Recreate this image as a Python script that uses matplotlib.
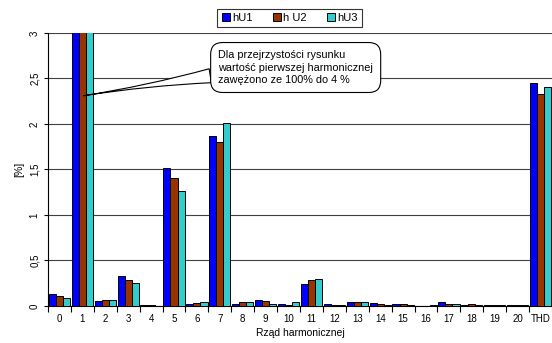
import matplotlib.pyplot as plt
import numpy as np

plt.rcParams['font.family'] = ['Liberation Sans', 'DejaVu Sans']

categories = [str(i) for i in range(21)] + ['THD']
# first harmonic (100%) shown narrowed to 4 %
hU1 = [0.13, 4.0, 0.05, 0.33, 0.01, 1.52, 0.02, 1.87, 0.02, 0.06, 0.02,
       0.24, 0.02, 0.04, 0.03, 0.02, 0.00, 0.04, 0.01, 0.01, 0.01, 2.45]
hU2 = [0.11, 4.0, 0.07, 0.28, 0.01, 1.41, 0.03, 1.80, 0.04, 0.05, 0.01,
       0.28, 0.01, 0.04, 0.02, 0.02, 0.00, 0.02, 0.02, 0.01, 0.01, 2.33]
hU3 = [0.09, 4.0, 0.07, 0.25, 0.00, 1.26, 0.04, 2.01, 0.04, 0.02, 0.04,
       0.30, 0.01, 0.04, 0.01, 0.01, 0.01, 0.02, 0.01, 0.01, 0.01, 2.41]
yticks = [0, 0.5, 1, 1.5, 2, 2.5, 3]
ytick_labels = ['0', '0,5', '1', '1,5', '2', '2,5', '3']

fig = plt.figure(figsize=(5.52, 3.43), dpi=100)
ax = fig.add_axes([0.087, 0.108, 0.913, 0.796])

x = np.arange(len(categories))
w = 0.31
series = [(hU1, '#0000FF', 'hU1'), (hU2, '#993300', 'h U2'), (hU3, '#33CCCC', 'hU3')]
for i, (vals, col, lab) in enumerate(series):
    ax.bar(x + (i - 1) * w, vals, width=w, color=col, edgecolor='black',
           linewidth=0.7, label=lab, zorder=3)

ax.set_ylim(0, 3)
ax.set_xlim(-0.5, len(categories) - 0.5)
ax.set_yticks(yticks)
ax.set_yticklabels(ytick_labels, rotation=90, va='center', fontsize=7)
ax.yaxis.grid(True, color='#404040', linewidth=0.8, zorder=0)
ax.tick_params(axis='y', length=3, width=0.8, pad=3)

ax.set_xticks(x)
ax.set_xticklabels(categories, fontsize=7)
ax.set_xticks(np.arange(-0.5, len(categories)), minor=True)
ax.tick_params(axis='x', which='major', length=0, pad=6)
ax.tick_params(axis='x', which='minor', length=4, width=0.8)

for s in ['top', 'right']:
    ax.spines[s].set_visible(False)
ax.spines['left'].set_linewidth(0.8)
ax.spines['bottom'].set_linewidth(0.8)

ax.set_xlabel('Rząd harmonicznej', fontsize=7.5, labelpad=3)
ax.set_ylabel('[%]', fontsize=7.5, labelpad=4)

leg = fig.legend(loc='upper center', bbox_to_anchor=(0.525, 0.975), ncol=3,
                 fontsize=8, frameon=True, fancybox=False, edgecolor='black',
                 handlelength=0.75, handleheight=0.75, handletextpad=0.2,
                 columnspacing=1.8, borderpad=0.4, borderaxespad=0)
leg.get_frame().set_linewidth(0.8)

ax.annotate('Dla przejrzystości rysunku\nwartość pierwszej harmonicznej\nzawężono ze 100% do 4 %',
            xy=(1.05, 2.31), xycoords='data',
            xytext=(6.93, 2.62), textcoords='data',
            fontsize=7.8, ha='left', va='center', zorder=5, linespacing=1.3,
            bbox=dict(boxstyle='round,pad=0.7,rounding_size=1.1', fc='white',
                      ec='black', lw=0.8),
            arrowprops=dict(arrowstyle='wedge,tail_width=1.3,shrink_factor=0.25',
                            fc='white', ec='black', lw=0.8,
                            relpos=(0.0, 0.3), shrinkA=0, shrinkB=0))

fig.savefig('out.png', dpi=100)
plt.close(fig)
